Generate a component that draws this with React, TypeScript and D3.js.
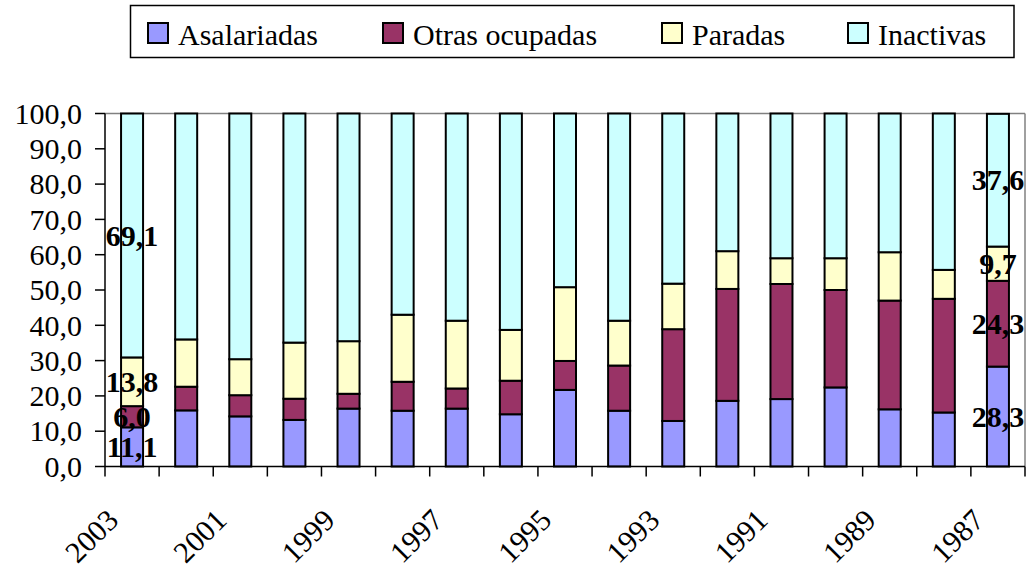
import React from "react";
import * as d3 from "d3";

const years = ["2003","2002","2001","2000","1999","1998","1997","1996","1995","1994","1993","1992","1991","1990","1989","1988","1987"];
const seriesNames = ["Asalariadas", "Otras ocupadas", "Paradas", "Inactivas"];
const seriesColors = ["#9999FF", "#993366", "#FFFFCC", "#CCFFFF"];
const asalariadas = [11.1, 15.9, 14.2, 13.2, 16.4, 15.8, 16.4, 14.8, 21.7, 15.8, 12.9, 18.6, 19.1, 22.4, 16.2, 15.3, 28.3];
const otrasOcupadas = [6.0, 6.7, 6.0, 6.0, 4.2, 8.2, 5.7, 9.5, 8.2, 12.8, 26.0, 31.7, 32.6, 27.6, 30.8, 32.2, 24.3];
const paradas = [13.8, 13.4, 10.2, 15.9, 14.9, 19.0, 19.2, 14.4, 20.9, 12.7, 12.9, 10.7, 7.3, 9.0, 13.7, 8.2, 9.7];
const inactivas = [69.1, 64.0, 69.6, 64.9, 64.5, 57.0, 58.7, 61.3, 49.2, 58.7, 48.2, 39.0, 41.0, 41.0, 39.3, 44.3, 37.6];
const yTicks = [0, 10, 20, 30, 40, 50, 60, 70, 80, 90, 100];
const xTickLabels = ["2003","2001","1999","1997","1995","1993","1991","1989","1987"];
const labeledYears = ["2003", "1987"];

const FONT = '"Liberation Serif", Tinos, "Times New Roman", Times, serif';

export default function App() {
  const W = 1030, H = 568;
  const left = 105, right = 1025, top = 113.5, bottom = 466.5;
  const x = d3.scaleBand<string>().domain(years).range([left, right]).padding(0);
  const y = d3.scaleLinear().domain([0, 100]).range([bottom, top]);
  const barW = 22;

  const rows = years.map((yr, i) => ({
    year: yr,
    [seriesNames[0]]: asalariadas[i],
    [seriesNames[1]]: otrasOcupadas[i],
    [seriesNames[2]]: paradas[i],
    [seriesNames[3]]: inactivas[i],
  }));
  const stacked = d3.stack<any>().keys(seriesNames)(rows as any);
  const fmt = (v: number) => d3.format(".1f")(v).replace(".", ",");

  const legendX = [148, 383, 662, 848];
  const ts = { fontFamily: FONT };

  return (
    <svg width={W} height={H} style={{ position: "fixed", left: 0, top: 0, background: "#fff", fontFamily: FONT }}>
      {/* legend */}
      <rect x={130.5} y={5.5} width={883.5} height={52} fill="#fff" stroke="#000" strokeWidth={1.5} />
      {seriesNames.map((n, i) => (
        <g key={n}>
          <rect x={legendX[i]} y={23} width={20} height={20} fill={seriesColors[i]} stroke="#000" strokeWidth={2} />
          <text x={legendX[i] + 30} y={44.5} fontSize={30} fill="#000" style={ts}>{n}</text>
        </g>
      ))}

      {/* plot border */}
      <line x1={left} x2={right} y1={top} y2={top} stroke="#808080" strokeWidth={1.5} />
      <line x1={right} x2={right} y1={top} y2={bottom} stroke="#808080" strokeWidth={1.5} />

      {/* bars */}
      {stacked.map((s, si) => (
        <g key={seriesNames[si]}>
          {s.map((d, i) => {
            const cx = (x(years[i]) as number) + x.bandwidth() / 2;
            return (
              <rect key={i} x={cx - barW / 2} y={y(d[1])} width={barW} height={y(d[0]) - y(d[1])}
                fill={seriesColors[si]} stroke="#000" strokeWidth={2} />
            );
          })}
        </g>
      ))}

      {/* axes */}
      <line x1={left} x2={left} y1={top} y2={bottom} stroke="#000" strokeWidth={1.5} />
      <line x1={left} x2={right} y1={bottom} y2={bottom} stroke="#000" strokeWidth={1.5} />
      {yTicks.map((t) => (
        <g key={t}>
          <line x1={left - 10} x2={left} y1={y(t)} y2={y(t)} stroke="#000" strokeWidth={1.5} />
          <text x={82} y={y(t)} dy="0.34em" textAnchor="end" fontSize={30} fill="#000" style={ts}>{fmt(t)}</text>
        </g>
      ))}
      {years.concat(["end"]).map((yr, i) => {
        const xx = i < years.length ? (x(yr) as number) : right;
        return <line key={"t" + i} x1={xx} x2={xx} y1={bottom} y2={bottom + 10} stroke="#000" strokeWidth={1.5} />;
      })}
      {xTickLabels.map((lab) => {
        const cx = (x(lab) as number) + x.bandwidth() / 2;
        const ax = cx - 12, ay = 522;
        return (
          <text key={lab} x={ax} y={ay} textAnchor="end" fontSize={30} fill="#000" style={ts}
            transform={`rotate(-45 ${ax} ${ay})`}>{lab}</text>
        );
      })}

      {/* data labels */}
      {stacked.map((s, si) =>
        s.map((d, i) => {
          if (!labeledYears.includes(years[i])) return null;
          const cx = (x(years[i]) as number) + x.bandwidth() / 2;
          const cy = y((d[0] + d[1]) / 2);
          return (
            <text key={si + "-" + i} x={cx} y={cy} dy="0.34em" textAnchor="middle" fontSize={30}
              fontWeight="bold" fill="#000" style={ts}>{fmt(d[1] - d[0])}</text>
          );
        })
      )}
    </svg>
  );
}
